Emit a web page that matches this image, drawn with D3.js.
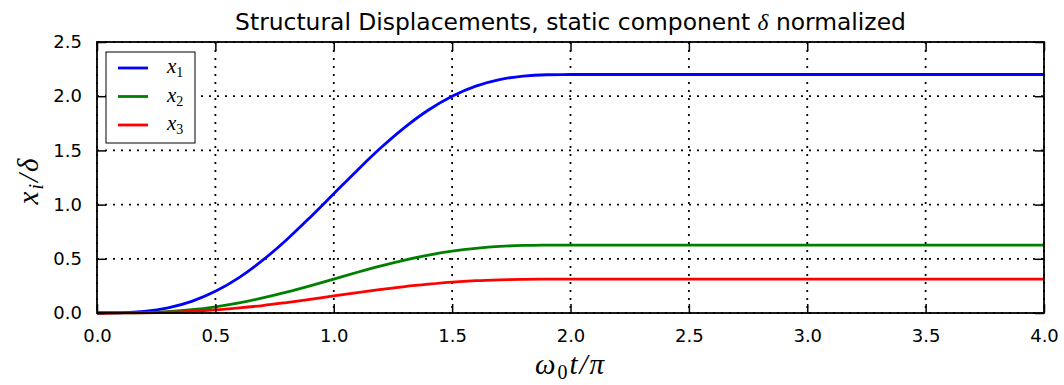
<!DOCTYPE html>
<html>
<head>
<meta charset="utf-8">
<script src="https://cdn.jsdelivr.net/npm/d3@7"></script>
<style>
  body { margin: 0; background: #fff; }
  svg text { font-family: "DejaVu Sans", sans-serif; fill: #000; }
  .math { font-family: "Liberation Serif", "DejaVu Serif", serif; font-style: italic; }
</style>
</head>
<body>
<svg id="chart"></svg>
<script>
// time axis, omega0 t / pi
const tValues = [0.0, 0.1, 0.2, 0.3, 0.4, 0.5, 0.6, 0.7, 0.8, 0.9, 1.0,
                 1.1, 1.2, 1.3, 1.4, 1.5, 1.6, 1.7, 1.8, 1.9, 2.0,
                 2.5, 3.0, 3.5, 4.0];
// x_i / delta
const x1Values = [0, 0.002, 0.014, 0.047, 0.107, 0.20, 0.327, 0.487, 0.674, 0.882, 1.10,
                  1.318, 1.526, 1.713, 1.873, 2.00, 2.093, 2.153, 2.186, 2.198, 2.2,
                  2.2, 2.2, 2.2, 2.2];
const x2Values = [0, 0.0005, 0.004, 0.013, 0.030, 0.057, 0.093, 0.139, 0.192, 0.251, 0.313,
                  0.376, 0.435, 0.488, 0.534, 0.570, 0.596, 0.614, 0.623, 0.626, 0.627,
                  0.627, 0.627, 0.627, 0.627];
const x3Values = [0, 0.0003, 0.002, 0.007, 0.015, 0.028, 0.047, 0.069, 0.096, 0.125, 0.157,
                  0.188, 0.217, 0.244, 0.266, 0.285, 0.298, 0.306, 0.311, 0.313, 0.313,
                  0.313, 0.313, 0.313, 0.313];
const seriesNames = ['1', '2', '3'];
const seriesColors = ['#0000ff', '#008000', '#ff0000'];
const xTicks = [0, 0.5, 1.0, 1.5, 2.0, 2.5, 3.0, 3.5, 4.0];
const yTicks = [0, 0.5, 1.0, 1.5, 2.0, 2.5];

const w = 1064, h = 385;
const pLeft = 97, pRight = 1044, pTop = 42, pBottom = 313;

const svg = d3.select('#chart').attr('width', w).attr('height', h);

const xScale = d3.scaleLinear().domain([0, 4]).range([pLeft, pRight]);
const yScale = d3.scaleLinear().domain([0, 2.5]).range([pBottom, pTop]);

// grid
const grid = svg.append('g').attr('class', 'grid')
    .attr('stroke', '#000').attr('stroke-width', 1.8).attr('stroke-dasharray', '2,6');
grid.selectAll('line.gx').data(xTicks).enter().append('line')
    .attr('x1', d => xScale(d)).attr('x2', d => xScale(d))
    .attr('y1', pTop).attr('y2', pBottom);
grid.selectAll('line.gy').data(yTicks).enter().append('line')
    .attr('y1', d => yScale(d)).attr('y2', d => yScale(d))
    .attr('x1', pLeft).attr('x2', pRight);

// curves
const series = [x1Values, x2Values, x3Values];
const line = d3.line()
    .x((d, i) => xScale(tValues[i]))
    .y(d => yScale(d))
    .curve(d3.curveMonotoneX);
svg.append('g').selectAll('path').data(series).enter().append('path')
    .attr('d', d => line(d))
    .attr('fill', 'none')
    .attr('stroke', (d, i) => seriesColors[i])
    .attr('stroke-width', 2.8);

// axes with inward ticks
const fmt = d3.format('.1f');
const xAxis = d3.axisBottom(xScale).tickValues(xTicks).tickFormat(fmt)
    .tickSizeInner(-9).tickSizeOuter(0).tickPadding(16);
const yAxis = d3.axisLeft(yScale).tickValues(yTicks).tickFormat(fmt)
    .tickSizeInner(-9).tickSizeOuter(0).tickPadding(15);
const xTop = d3.axisTop(xScale).tickValues(xTicks).tickFormat('')
    .tickSizeInner(-9).tickSizeOuter(0);
const yRight = d3.axisRight(yScale).tickValues(yTicks).tickFormat('')
    .tickSizeInner(-9).tickSizeOuter(0);

function styleAxis(g) {
  g.select('.domain').remove();
  g.selectAll('.tick line').attr('stroke', '#000').attr('stroke-width', 1.5);
  g.selectAll('.tick text').attr('font-size', 18).attr('fill', '#000')
    .style('font-family', '"DejaVu Sans", sans-serif');
}
svg.append('g').attr('transform', 'translate(0,' + pBottom + ')').call(xAxis).call(styleAxis);
svg.append('g').attr('transform', 'translate(' + pLeft + ',0)').call(yAxis).call(styleAxis);
svg.append('g').attr('transform', 'translate(0,' + pTop + ')').call(xTop).call(styleAxis);
svg.append('g').attr('transform', 'translate(' + pRight + ',0)').call(yRight).call(styleAxis);
svg.selectAll('.tick text').filter(function() { return this.textContent === ''; }).remove();

// frame
svg.append('rect')
    .attr('x', pLeft).attr('y', pTop)
    .attr('width', pRight - pLeft).attr('height', pBottom - pTop)
    .attr('fill', 'none').attr('stroke', '#000').attr('stroke-width', 1.8);

// title
const title = svg.append('text')
    .attr('x', (pLeft + pRight) / 2).attr('y', 30)
    .attr('text-anchor', 'middle').attr('font-size', 23.4);
title.append('tspan').text('Structural Displacements, static component ');
title.append('tspan').attr('class', 'math').text('δ');
title.append('tspan').text(' normalized');

// x label
const xl = svg.append('text').attr('class', 'math')
    .attr('x', (pLeft + pRight) / 2).attr('y', 374)
    .attr('text-anchor', 'middle').attr('font-size', 29)
    .style('letter-spacing', '2px');
xl.append('tspan').text('ω');
xl.append('tspan').attr('font-style', 'normal').attr('font-size', 20).attr('dy', 5).text('0');
xl.append('tspan').attr('dy', -5).text('t/π');

// y label
const yl = svg.append('text').attr('class', 'math')
    .attr('transform', 'translate(38,' + ((pTop + pBottom) / 2 + 3) + ') rotate(-90)')
    .attr('text-anchor', 'middle').attr('font-size', 29)
    .style('letter-spacing', '2px');
yl.append('tspan').text('x');
yl.append('tspan').attr('font-size', 20).attr('dy', 5).text('i');
yl.append('tspan').attr('dy', -5).text('/δ');

// legend
const legend = svg.append('g').attr('transform', 'translate(' + (pLeft + 9) + ',' + (pTop + 10) + ')');
legend.append('rect')
    .attr('width', 89).attr('height', 91)
    .attr('fill', '#fff').attr('stroke', '#000').attr('stroke-width', 1);
const items = legend.selectAll('g.item').data(seriesNames).enter().append('g')
    .attr('transform', (d, i) => 'translate(0,' + (16 + i * 28.5) + ')');
items.append('line')
    .attr('x1', 12).attr('x2', 42)
    .attr('stroke', (d, i) => seriesColors[i]).attr('stroke-width', 2.8);
const lt = items.append('text').attr('class', 'math')
    .attr('x', 61).attr('y', 5).attr('font-size', 21);
lt.append('tspan').text('x');
lt.append('tspan').attr('font-style', 'normal').attr('font-size', 14).attr('dy', 4).text(d => d);
</script>
</body>
</html>
